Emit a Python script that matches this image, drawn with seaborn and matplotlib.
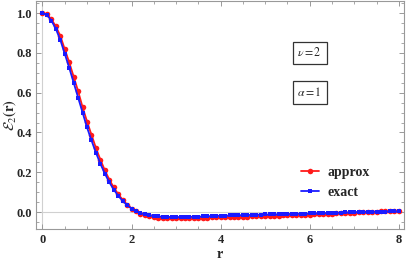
import numpy as np
import matplotlib
matplotlib.use("Agg")
import matplotlib.pyplot as plt
from matplotlib.ticker import MultipleLocator
import seaborn as sns

# sampling grid r = 0.0, 0.1, ..., 8.0
r = np.round(np.linspace(0, 8, 81), 1)

approx = [
    1.000, 0.993, 0.968, 0.933, 0.885, 0.818, 0.752, 0.680, 0.607, 0.527,
    0.455, 0.388, 0.322, 0.263, 0.210, 0.163, 0.124, 0.090, 0.062, 0.038,
    0.018, 0.003, -0.008, -0.016, -0.022, -0.026, -0.029, -0.031, -0.032, -0.032,
    -0.032, -0.032, -0.031, -0.031, -0.030, -0.030, -0.029, -0.028, -0.027, -0.027,
    -0.026, -0.026, -0.025, -0.025, -0.024, -0.023, -0.023, -0.022, -0.021, -0.021,
    -0.020, -0.019, -0.019, -0.018, -0.017, -0.017, -0.016, -0.015, -0.014, -0.014,
    -0.013, -0.012, -0.011, -0.010, -0.009, -0.008, -0.007, -0.006, -0.005, -0.004,
    -0.003, -0.002, -0.001, 0.000, 0.001, 0.002, 0.003, 0.004, 0.005, 0.006,
    0.007,
]

exact = [
    1.000, 0.990, 0.962, 0.920, 0.865, 0.795, 0.725, 0.650, 0.575, 0.500,
    0.425, 0.360, 0.298, 0.243, 0.193, 0.150, 0.113, 0.082, 0.056, 0.035,
    0.018, 0.005, -0.005, -0.011, -0.016, -0.019, -0.022, -0.023, -0.024, -0.025,
    -0.025, -0.025, -0.024, -0.024, -0.023, -0.023, -0.022, -0.021, -0.020, -0.019,
    -0.018, -0.018, -0.017, -0.016, -0.016, -0.015, -0.015, -0.014, -0.013, -0.013,
    -0.012, -0.012, -0.011, -0.011, -0.010, -0.010, -0.009, -0.009, -0.008, -0.008,
    -0.007, -0.007, -0.006, -0.005, -0.005, -0.004, -0.004, -0.003, -0.002, -0.002,
    -0.001, 0.000, 0.000, 0.001, 0.001, 0.002, 0.002, 0.002, 0.003, 0.003,
    0.003,
]

params = [(6.0, 0.80, r'$\nu = 2$'), (6.0, 0.60, r'$\alpha = 1$')]

sns.set_theme(style="ticks")
plt.rcParams['font.family'] = ['Liberation Serif', 'DejaVu Serif']
plt.rcParams['mathtext.fontset'] = 'stix'

fig = plt.figure(figsize=(4.07, 2.64), dpi=100)
ax = fig.add_axes([0.088, 0.131, 0.905, 0.865])

ax.axhline(0, color='#d0d0d0', lw=0.8, zorder=0)
ax.axvline(0, color='#d0d0d0', lw=0.8, zorder=0)

sns.lineplot(x=r, y=approx, ax=ax, color='#ff1a1a', lw=1.3, marker='o',
             markersize=4, markeredgewidth=0, label='approx')
sns.lineplot(x=r, y=exact, ax=ax, color='#1a1aff', lw=1.3, marker='s',
             markersize=3, markeredgewidth=0, label='exact')

ax.set_xlim(-0.15, 8.12)
ax.set_ylim(-0.087, 1.06)
ax.xaxis.set_major_locator(MultipleLocator(2))
ax.xaxis.set_minor_locator(MultipleLocator(0.5))
ax.yaxis.set_major_locator(MultipleLocator(0.2))
ax.yaxis.set_minor_locator(MultipleLocator(0.05))
ax.yaxis.set_major_formatter(matplotlib.ticker.FormatStrFormatter('%.1f'))

ax.tick_params(which='both', direction='in', top=True, right=True,
               color='#999999', labelsize=9, pad=3)
ax.tick_params(which='major', length=3.5, width=0.7)
ax.tick_params(which='minor', length=2, width=0.6)
for lab in ax.get_xticklabels() + ax.get_yticklabels():
    lab.set_fontweight('bold')
for sp in ax.spines.values():
    sp.set_color('#999999')
    sp.set_linewidth(0.8)

ax.set_xlabel('r', fontsize=10, fontweight='bold', labelpad=2)
ax.set_ylabel(r'$\mathcal{E}_2\mathbf{(r)}$', fontsize=10.5)
ax.yaxis.set_label_coords(-0.048, 0.5)

for x, y, s in params:
    ax.text(x, y, s, fontsize=8.5, ha='center', va='center',
            bbox=dict(boxstyle='square,pad=0.4', fc='white', ec='#333333', lw=0.9))

leg = ax.legend(loc='center left', bbox_to_anchor=(0.72, 0.206), frameon=False,
                borderaxespad=0, borderpad=0, handlelength=1.3, handletextpad=0.6,
                labelspacing=0.55, prop={'family': 'Liberation Serif', 'weight': 'bold', 'size': 10})

fig.savefig('out.png', dpi=100)
